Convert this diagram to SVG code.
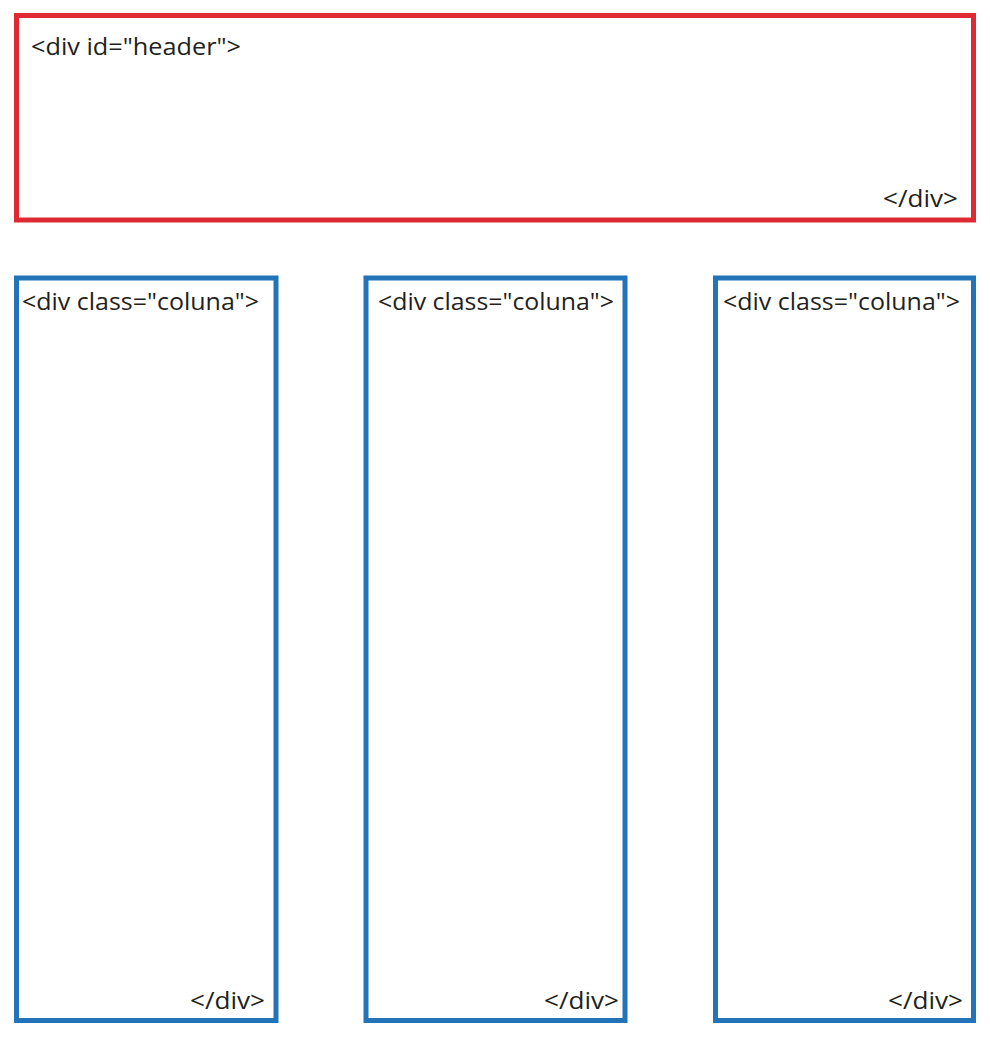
<svg xmlns="http://www.w3.org/2000/svg" width="990" height="1038" viewBox="0 0 990 1038">
<style>
.hdr{fill:none;stroke:#df2a34;stroke-width:5}
.col{fill:none;stroke:#2273b8;stroke-width:5}
.t{font-family:"Open Sans","Liberation Sans",sans-serif;font-size:23px;fill:#231f20}
</style>
<rect width="990" height="1038" fill="#ffffff"/>
<g id="header">
<rect class="hdr" x="16.5" y="15.5" width="957" height="204.5"/>
<text class="t" x="31" y="55" textLength="210" lengthAdjust="spacingAndGlyphs">&lt;div id="header"&gt;</text>
<text class="t" x="883" y="207" textLength="75" lengthAdjust="spacingAndGlyphs">&lt;/div&gt;</text>
</g>
<g id="coluna1">
<rect class="col" x="16.5" y="278" width="259.5" height="742.5"/>
<text class="t" x="22" y="310" textLength="237" lengthAdjust="spacingAndGlyphs">&lt;div class="coluna"&gt;</text>
<text class="t" x="190" y="1009" textLength="75" lengthAdjust="spacingAndGlyphs">&lt;/div&gt;</text>
</g>
<g id="coluna2">
<rect class="col" x="366" y="278" width="259" height="742.5"/>
<text class="t" x="378" y="310" textLength="236" lengthAdjust="spacingAndGlyphs">&lt;div class="coluna"&gt;</text>
<text class="t" x="544" y="1009" textLength="75" lengthAdjust="spacingAndGlyphs">&lt;/div&gt;</text>
</g>
<g id="coluna3">
<rect class="col" x="715.5" y="278" width="258" height="742.5"/>
<text class="t" x="723" y="310" textLength="237" lengthAdjust="spacingAndGlyphs">&lt;div class="coluna"&gt;</text>
<text class="t" x="888" y="1009" textLength="75" lengthAdjust="spacingAndGlyphs">&lt;/div&gt;</text>
</g>
<g id="connectors"></g>
</svg>
